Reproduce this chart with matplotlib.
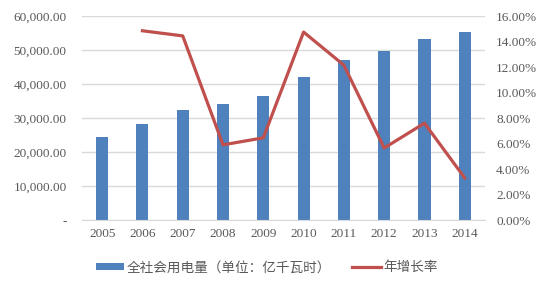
import matplotlib
matplotlib.use("Agg")
import matplotlib.pyplot as plt
from matplotlib.ticker import FuncFormatter

years = ["2005", "2006", "2007", "2008", "2009", "2010", "2011", "2012", "2013", "2014"]
consumption = [24500, 28300, 32400, 34200, 36500, 42000, 47000, 49600, 53400, 55200]
growth_years = years[1:]
growth = [14.85, 14.45, 5.9, 6.45, 14.75, 12.15, 5.65, 7.6, 3.3]

BAR_COLOR = "#4f81bd"
LINE_COLOR = "#c0504d"
TEXT_COLOR = "#595959"
GRID_COLOR = "#d9d9d9"
SERIF = ["Liberation Serif", "DejaVu Serif"]
CJK = ["Noto Sans CJK SC", "DejaVu Sans"]

fig = plt.figure(figsize=(5.43, 2.88), dpi=100)
ax = fig.add_axes([0.151, 0.236, 0.742, 0.708])
ax2 = ax.twinx()

x = list(range(len(years)))
bars = ax.bar(x, consumption, width=0.3, color=BAR_COLOR, zorder=2,
              label="全社会用电量（单位：亿千瓦时）")
gx = [years.index(y) for y in growth_years]
line, = ax2.plot(gx, growth, color=LINE_COLOR, linewidth=2.3,
                 label="年增长率", zorder=3)

ax.set_xlim(-0.5, len(years) - 0.5)
ax.set_ylim(0, 60000)
ax.set_yticks(range(0, 60001, 10000))
ax.yaxis.set_major_formatter(
    FuncFormatter(lambda v, p: "-" if v == 0 else f"{v:,.2f}"))
ax2.set_ylim(0, 16)
ax2.set_yticks(range(0, 17, 2))
ax2.yaxis.set_major_formatter(FuncFormatter(lambda v, p: f"{v:.2f}%"))

ax.set_xticks(x)
ax.set_xticklabels(years)
ax.grid(axis="y", color=GRID_COLOR, linewidth=1, zorder=0)
ax.set_axisbelow(True)

for a in (ax, ax2):
    for s in a.spines.values():
        s.set_visible(False)
    a.tick_params(length=0, colors=TEXT_COLOR, labelsize=9.5)
    for lbl in a.get_xticklabels() + a.get_yticklabels():
        lbl.set_family(SERIF)
ax.spines["bottom"].set_visible(True)
ax.spines["bottom"].set_color(GRID_COLOR)
ax.tick_params(axis="x", pad=6)
ax.tick_params(axis="y", pad=11)
ax2.tick_params(axis="y", pad=8)

fig.legend([bars, line], [bars.get_label(), line.get_label()],
           loc="center", bbox_to_anchor=(0.491, 0.072), ncol=2, frameon=False,
           prop={"family": CJK, "size": 9.8}, labelcolor=TEXT_COLOR,
           handlelength=2.1, handleheight=0.5, columnspacing=1.6,
           handletextpad=0.15)

fig.savefig("out.png", dpi=100)
